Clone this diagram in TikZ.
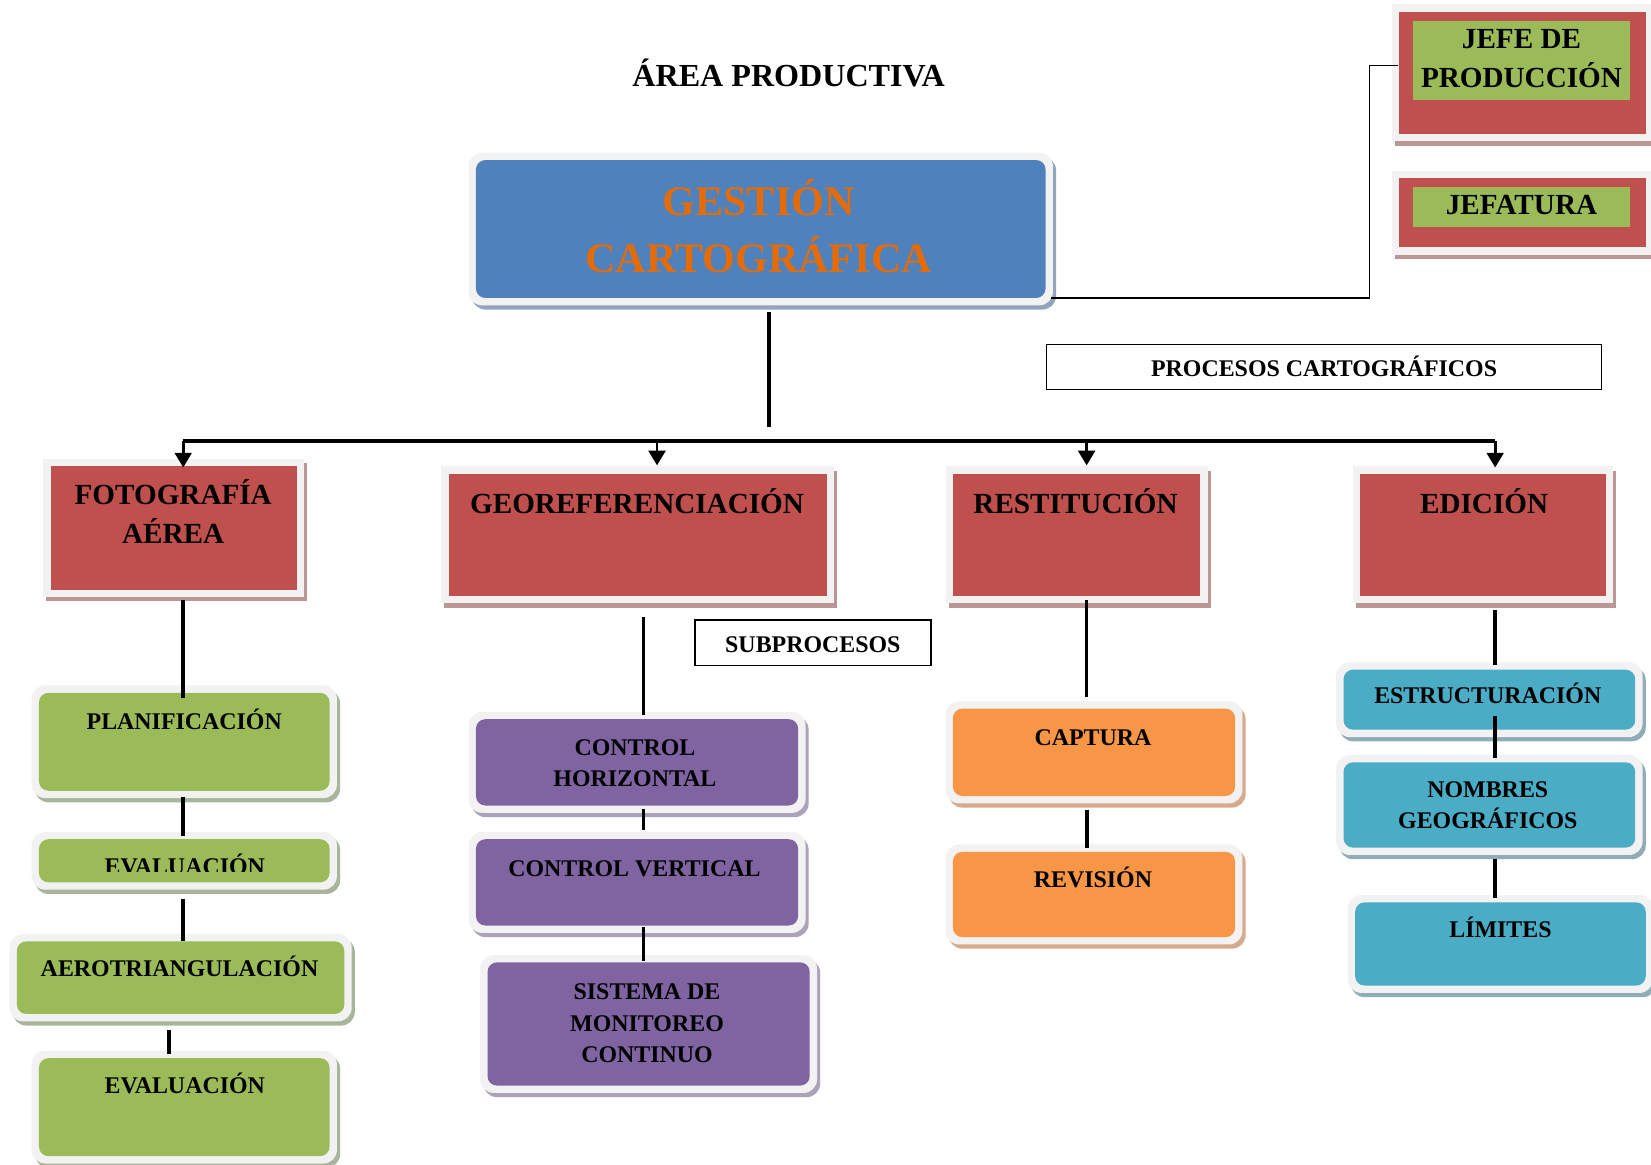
\documentclass[tikz,border=0pt]{standalone}
\usepackage{fontspec}
\setmainfont{Liberation Serif}
\usetikzlibrary{arrows.meta}
\definecolor{framegray}{HTML}{F2F2F2}
\definecolor{cblue}{HTML}{4F81BD}
\definecolor{cred}{HTML}{C0504D}
\definecolor{cgreen}{HTML}{9BBB59}
\definecolor{cpurple}{HTML}{8064A2}
\definecolor{corange}{HTML}{F79646}
\definecolor{caqua}{HTML}{4BACC6}
\definecolor{ctitle}{HTML}{E36C09}
\definecolor{shblue}{HTML}{93A5BE}
\definecolor{shred}{HTML}{BA9696}
\definecolor{shgreen}{HTML}{A9B59B}
\definecolor{shpurple}{HTML}{ACA3BA}
\definecolor{shorange}{HTML}{D6AB8C}
\definecolor{shaqua}{HTML}{8EADB6}
\newcommand{\stk}[1]{\begin{tabular}[t]{@{}c@{}}#1\end{tabular}}
\newcommand{\szTitle}{\fontsize{30.5}{36}\selectfont}
\newcommand{\szGest}{\fontsize{40}{54}\selectfont}
\newcommand{\szA}{\fontsize{27.7}{37.5}\selectfont}
\newcommand{\szB}{\fontsize{22.7}{29.7}\selectfont}
\tikzset{
  framebox/.style={fill=framegray, inner sep=0pt, outer sep=0pt, draw=none},
  txt/.style={inner sep=0pt, outer sep=0pt, font=\bfseries, anchor=base},
  conn/.style={line width=3.4pt},
  thinconn/.style={line width=1.4pt},
  arr/.style={line width=2.6pt, -{Triangle[width=16pt,length=14pt]}},
  labelbox/.style={draw, line width=1.5pt, fill=white, inner sep=0pt, font=\bfseries\szB, text height=19pt, text depth=0pt}
}
% rounded box: name, x1, y1, x2, y2, fill, shadow
\newcommand{\rbox}[7]{%
  \fill[#7, rounded corners=13pt] ({#2+3},{#3+4}) rectangle ({#4+3},{#5+4});
  \node[framebox, rounded corners=13pt, minimum width={#4-#2}, minimum height={#5-#3}] (#1) at ({(#2+#4)/2},{(#3+#5)/2}) {};
  \fill[#6, rounded corners=9pt] ({#2+7},{#3+7}) rectangle ({#4-7},{#5-7});
}
% square box: name, x1, y1, x2, y2
\newcommand{\redbox}[5]{%
  \fill[shred] ({#2+3},{#3+4}) rectangle ({#4+3},{#5+4});
  \node[framebox, minimum width={#4-#2}, minimum height={#5-#3}] (#1) at ({(#2+#4)/2},{(#3+#5)/2}) {};
  \fill[cred] ({#2+7},{#3+7}) rectangle ({#4-7},{#5-7});
}
\begin{document}
\begin{tikzpicture}[x=1pt,y=-1pt]
\useasboundingbox (0,0) rectangle (1568,1106);
\clip (0,0) rectangle (1568,1106);
\fill[white] (0,0) rectangle (1568,1106);

% title
\node[txt] (title) at (749,82) {\szTitle ÁREA PRODUCTIVA};

% top right boxes
\fill[shred] (1325,9) rectangle (1573,139);
\node[framebox, minimum width=248, minimum height=130] (jefe) at (1446,69) {};
\fill[cred] (1329,11) rectangle (1563,127);
\fill[cgreen] (1342,20) rectangle (1548,95);
\node[txt] (jefe-t) at (1445,46.5) {\fontsize{27.7}{37}\selectfont\stk{JEFE DE\\PRODUCCIÓN}};

\fill[shred] (1325,166) rectangle (1573,246);
\node[framebox, minimum width=248, minimum height=80] (jefat) at (1446,202) {};
\fill[cred] (1329,169) rectangle (1563,235);
\fill[cgreen] (1342,178) rectangle (1548,215.5);
\node[txt] (jefat-t) at (1445,204) {\szA JEFATURA};

% main box
\rbox{gest}{445}{145}{1000}{290}{cblue}{shblue}
\node[txt, text=ctitle] (gest-t) at (720.5,204.5) {\szGest\stk{GESTIÓN\\CARTOGRÁFICA}};

% label boxes
\node[labelbox, minimum width=527, minimum height=43] (proc) at (1257.5,348.5) {PROCESOS CARTOGRÁFICOS};
\node[labelbox, minimum width=224, minimum height=43] (subp) at (772,610.5) {SUBPROCESOS};

% level 1
\redbox{foto}{41}{436}{289}{567}
\redbox{geo}{419}{443}{792}{573}
\redbox{rest}{898}{443}{1147}{573}
\redbox{edic}{1285}{443}{1532}{573}
\node[txt] (foto-t) at (164.5,479) {\szA\stk{FOTOGRAFÍA\\AÉREA}};
\node[txt] (geo-t) at (605,487.5) {\szA GEOREFERENCIACIÓN};
\node[txt] (rest-t) at (1021.5,487.5) {\szA RESTITUCIÓN};
\node[txt] (edic-t) at (1409.5,487.5) {\szA EDICIÓN};

% level 2 - green
\rbox{plan}{30}{651}{320}{758}{cgreen}{shgreen}
\rbox{evala}{30}{790}{320}{845}{cgreen}{shgreen}
\rbox{aero}{9}{887}{334}{970}{cgreen}{shgreen}
\rbox{evalb}{30}{998}{320}{1105}{cgreen}{shgreen}
\node[txt] (plan-t) at (175,693) {\szB PLANIFICACIÓN};
\begin{scope}
  \clip (37,797) rectangle (313,828);
  \node[txt] (evala-t) at (175.5,830.5) {\szB EVALUACIÓN};
\end{scope}
\node[txt] (aero-t) at (170.5,927.5) {\szB AEROTRIANGULACIÓN};
\node[txt] (evalb-t) at (175.5,1038.5) {\szB EVALUACIÓN};

% level 2 - purple
\rbox{ch}{445}{676}{765}{772}{cpurple}{shpurple}
\rbox{cv}{445}{790}{765}{886}{cpurple}{shpurple}
\rbox{smc}{456}{907}{776}{1038}{cpurple}{shpurple}
\node[txt] (ch-t) at (603,717.5) {\szB\stk{CONTROL\\HORIZONTAL}};
\node[txt] (cv-t) at (602.5,832.5) {\szB CONTROL VERTICAL};
\node[txt] (smc-t) at (614.5,949.5) {\szB\stk{SISTEMA DE\\MONITOREO\\CONTINUO}};

% level 2 - orange
\rbox{cap}{898}{666}{1180}{763}{corange}{shorange}
\rbox{rev}{898}{802}{1180}{897}{corange}{shorange}
\node[txt] (cap-t) at (1038,708) {\szB CAPTURA};
\node[txt] (rev-t) at (1038,842.5) {\szB REVISIÓN};

% level 2 - aqua
\rbox{est}{1269}{629}{1560}{700}{caqua}{shaqua}
\rbox{nom}{1269}{717}{1560}{812}{caqua}{shaqua}
\rbox{lim}{1280}{850}{1570}{943}{caqua}{shaqua}
\node[txt] (est-t) at (1413,668.5) {\szB ESTRUCTURACIÓN};
\node[txt] (nom-t) at (1413,757.5) {\szB\stk{NOMBRES\\GEOGRÁFICOS}};
\node[txt] (lim-t) at (1425,890.5) {\szB LÍMITES};

% connectors
\coordinate (gj) at (730.5,405.5);
\coordinate (busl) at (174,419);
\coordinate (busr) at (1420,419);
\coordinate (a2) at (624,419);
\coordinate (a3) at (1032,419);

\draw[thinconn] ([xshift=-2pt,yshift=7pt]gest.south east) -- ++(302.5,0) |- ([xshift=6pt,yshift=7pt]jefe.west);
\draw[conn] ([xshift=8pt,yshift=-6pt]gest.south) -- (gj);
\draw[conn] (busl) -- (busr);
\draw[arr] (busl) -- ([xshift=9pt,yshift=-8pt]foto.north);
\draw[arr] (a2) -- ([xshift=18.5pt,yshift=1pt]geo.north);
\draw[arr] (a3) -- ([xshift=9.5pt,yshift=1pt]rest.north);
\draw[arr] (busr) -- ([xshift=11.5pt,yshift=-1pt]edic.north);

\draw[conn] ([xshift=9pt,yshift=-3pt]foto.south) -- ([xshift=-1pt,yshift=-12pt]plan.north);
\draw[conn] ([xshift=-1pt,yshift=1pt]plan.south) -- ([xshift=-1pt,yshift=-4pt]evala.north);
\draw[conn] ([xshift=-1pt,yshift=-9pt]evala.south) -- ([xshift=2.5pt,yshift=-7pt]aero.north);
\draw[conn] ([xshift=-11pt,yshift=-8pt]aero.south) -- ([xshift=-14.5pt,yshift=-3pt]evalb.north);

\draw[conn] ([xshift=5.5pt,yshift=-13pt]geo.south) -- ([xshift=6pt,yshift=-3pt]ch.north);
\draw[conn] ([xshift=6pt,yshift=4pt]ch.south) -- ([xshift=6pt,yshift=2pt]cv.north);
\draw[conn] ([xshift=6pt,yshift=6pt]cv.south) -- ([xshift=-5pt,yshift=-6pt]smc.north);

\draw[conn] ([xshift=9.5pt,yshift=3pt]rest.south) -- ([xshift=-7pt,yshift=4pt]cap.north);
\draw[conn] ([xshift=-6.5pt,yshift=-6pt]cap.south) -- ([xshift=-6.5pt,yshift=-3pt]rev.north);

\draw[conn] ([xshift=11.5pt,yshift=-6.5pt]edic.south) -- ([xshift=5.5pt,yshift=-3pt]est.north);
\draw[conn] ([xshift=5.5pt,yshift=20pt]est.south) -- ([xshift=5.5pt,yshift=-3pt]nom.north);
\draw[conn] ([xshift=5.5pt,yshift=-4pt]nom.south) -- ([xshift=-5pt,yshift=-3pt]lim.north);
\end{tikzpicture}
\end{document}
